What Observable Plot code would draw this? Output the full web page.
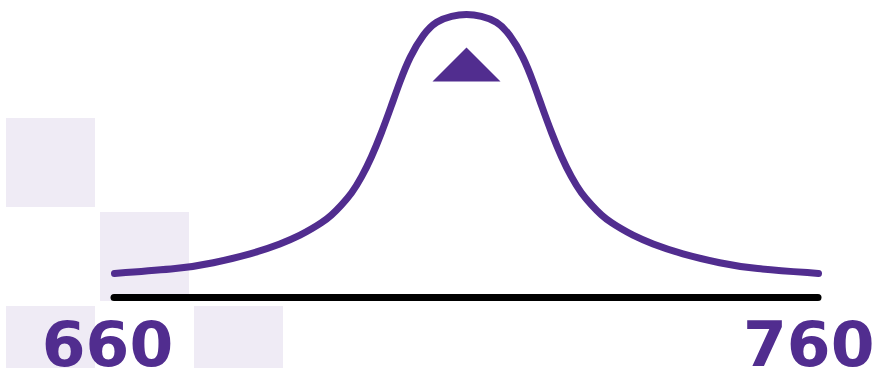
<!DOCTYPE html>
<html>
<head>
<meta charset="utf-8">
<script src="https://cdn.jsdelivr.net/npm/d3@7"></script>
<script src="https://cdn.jsdelivr.net/npm/@observablehq/plot@0.6"></script>
<style>
  html, body { margin: 0; padding: 0; background: #ffffff; }
  #chart { position: relative; width: 876px; height: 368px; overflow: hidden; }
  #chart svg { position: absolute; left: 0; top: 0; }
</style>
</head>
<body>
<div id="chart"></div>
<script>
// Curve: score (x) vs relative density (peak = 100)
const scores  = [660, 669.5, 673.8, 679.5, 683.7, 686.6, 688.0, 689.4, 690.8, 692.2, 693.7, 695.1, 696.5, 697.9, 699.3, 700.5, 701.9, 703.9, 705.7, 707.9, 710,
                 712.1, 714.3, 716.1, 718.1, 719.5, 720.7, 722.1, 723.5, 724.9, 726.3, 727.8, 729.2, 730.6, 732.0, 733.4, 736.3, 740.5, 746.2, 750.5, 760];
const density = [8.5, 10.2, 12.0, 15.4, 18.9, 22.2, 24.2, 26.3, 28.9, 32.5, 36.7, 42.4, 49.4, 57.9, 67.4, 75.9, 84.8, 93.1, 97.5, 99.4, 100,
                 99.4, 97.5, 93.1, 84.8, 75.9, 67.4, 57.9, 49.4, 42.4, 36.7, 32.5, 28.9, 26.3, 24.2, 22.2, 18.9, 15.4, 12.0, 10.2, 8.5];
const meanScore = [710];
const tickLabels = [660, 760];
// decorative background tiles (column, row)
const tileCols = [0, 1, 0, 2];
const tileRows = [0, 1, 2, 2];

const purple = "#512d8f";
const tiles = tileCols.map((c, i) => ({col: c, row: tileRows[i]}));
const curve = scores.map((s, i) => ({score: s, density: density[i]}));

const bg = Plot.plot({
  width: 876, height: 368, margin: 0,
  style: {background: "transparent"},
  x: {type: "band", domain: [0, 1, 2], range: [6, 283], paddingInner: 5 / 94, paddingOuter: 0, axis: null},
  y: {type: "band", domain: [0, 1, 2], range: [118, 395], paddingInner: 5 / 94, paddingOuter: 0, axis: null},
  marks: [
    Plot.cell(tiles, {x: "col", y: "row", fill: "#efebf5", inset: 0})
  ]
});

const triangle = {
  draw(context) {
    context.moveTo(0, -17);
    context.lineTo(34, 17);
    context.lineTo(-34, 17);
    context.closePath();
  }
};

const labelStyle = {
  tickSize: 0, tickPadding: 24, tickFormat: d => String(d), label: null,
  fontSize: 63, fontWeight: 700, fontFamily: "DejaVu Sans", fill: purple
};

const main = Plot.plot({
  width: 876, height: 368,
  marginLeft: 114, marginRight: 58, marginTop: 13.5, marginBottom: 71,
  style: {background: "transparent", overflow: "visible"},
  x: {domain: [660, 760], label: null},
  y: {domain: [0, 100], axis: null},
  marks: [
    Plot.ruleY([0], {x1: 660, x2: 760, stroke: "#000000", strokeWidth: 7, strokeLinecap: "round"}),
    Plot.line(curve, {x: "score", y: "density", curve: "basis", stroke: purple, strokeWidth: 7, strokeLinecap: "round", strokeLinejoin: "round"}),
    Plot.dot(meanScore, {x: d => d, y: 100, dy: 50.5, symbol: triangle, fill: purple, stroke: "none", r: 20}),
    Plot.axisX({...labelStyle, ticks: tickLabels.slice(0, 1), dx: -7}),
    Plot.axisX({...labelStyle, ticks: tickLabels.slice(1), textAnchor: "end", dx: 56})
  ]
});

const el = document.getElementById("chart");
el.appendChild(bg);
el.appendChild(main);
</script>
</body>
</html>
